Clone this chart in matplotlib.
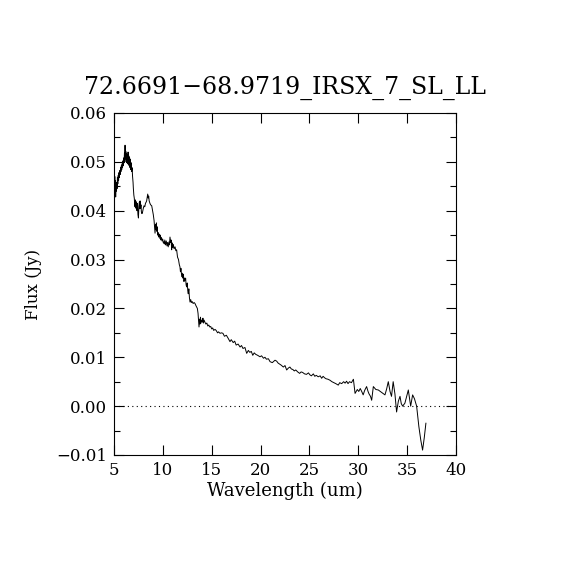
import numpy as np
import matplotlib
matplotlib.use("Agg")
import matplotlib.pyplot as plt
from matplotlib.ticker import MultipleLocator

# spectrum, in pieces

# 5 - 7 um
wave_a = [5.02, 5.05, 5.08, 5.11, 5.14, 5.17, 5.21, 5.24,
          5.27, 5.31, 5.35, 5.39, 5.43, 5.47, 5.51, 5.55,
          5.59, 5.63, 5.67, 5.71, 5.75, 5.79, 5.83, 5.87,
          5.91, 5.95, 5.99, 6.03, 6.07, 6.10, 6.13, 6.16,
          6.20, 6.24, 6.28, 6.32, 6.36, 6.40, 6.44, 6.48,
          6.52, 6.56, 6.60, 6.64, 6.68, 6.72, 6.76, 6.80,
          6.85, 6.90, 6.95, 6.98]
flux_a = [0.0500, 0.0440, 0.0470, 0.0432, 0.0462, 0.0428, 0.0455, 0.0440,
          0.0458, 0.0445, 0.0468, 0.0455, 0.0472, 0.0462, 0.0478, 0.0468,
          0.0482, 0.0474, 0.0488, 0.0480, 0.0492, 0.0484, 0.0496, 0.0488,
          0.0502, 0.0492, 0.0508, 0.0498, 0.0518, 0.0505, 0.0534, 0.0508,
          0.0522, 0.0500, 0.0518, 0.0498, 0.0515, 0.0496, 0.0520, 0.0494,
          0.0512, 0.0492, 0.0508, 0.0488, 0.0505, 0.0484, 0.0498, 0.0480,
          0.0488, 0.0470, 0.0458, 0.0446]

# 7 - 10 um
wave_b = [7.03, 7.08, 7.12, 7.15, 7.20, 7.25, 7.30, 7.35,
          7.40, 7.45, 7.50, 7.55, 7.60, 7.64, 7.67, 7.72,
          7.76, 7.80, 7.85, 7.90, 7.95, 8.00, 8.07, 8.15,
          8.22, 8.30, 8.34, 8.40, 8.45, 8.50, 8.55, 8.60,
          8.68, 8.75, 8.86, 8.95, 9.02, 9.10, 9.15, 9.20,
          9.25, 9.30, 9.34, 9.37, 9.42, 9.47, 9.53, 9.58,
          9.63, 9.70, 9.75, 9.80, 9.85, 9.92, 9.98, 10.05]
flux_b = [0.0432, 0.0425, 0.0412, 0.0408, 0.0422, 0.0405, 0.0418, 0.0400,
          0.0415, 0.0392, 0.0385, 0.0410, 0.0418, 0.0404, 0.0420, 0.0405,
          0.0412, 0.0398, 0.0394, 0.0395, 0.0400, 0.0405, 0.0410, 0.0408,
          0.0415, 0.0418, 0.0420, 0.0428, 0.0434, 0.0426, 0.0430, 0.0420,
          0.0415, 0.0412, 0.0410, 0.0400, 0.0392, 0.0380, 0.0368, 0.0354,
          0.0372, 0.0362, 0.0375, 0.0358, 0.0367, 0.0350, 0.0355, 0.0346,
          0.0352, 0.0343, 0.0350, 0.0340, 0.0345, 0.0338, 0.0342, 0.0334]

# 10 - 14.3 um
wave_c = [10.10, 10.15, 10.20, 10.27, 10.35, 10.42, 10.48, 10.55,
          10.62, 10.68, 10.73, 10.80, 10.85, 10.90, 10.96, 11.02,
          11.07, 11.15, 11.25, 11.33, 11.41, 11.50, 11.60, 11.68,
          11.75, 11.80, 11.85, 11.93, 12.00, 12.05, 12.10, 12.16,
          12.22, 12.27, 12.33, 12.38, 12.44, 12.50, 12.55, 12.60,
          12.66, 12.72, 12.78, 12.85, 12.92, 13.00, 13.10, 13.20,
          13.29, 13.40, 13.53, 13.60, 13.65, 13.70, 13.75, 13.80,
          13.85, 13.90, 13.98, 14.05, 14.10, 14.15, 14.22, 14.30]
flux_c = [0.0336, 0.0332, 0.0340, 0.0330, 0.0338, 0.0328, 0.0335, 0.0326,
          0.0336, 0.0330, 0.0346, 0.0335, 0.0340, 0.0320, 0.0334, 0.0325,
          0.0331, 0.0322, 0.0326, 0.0318, 0.0320, 0.0305, 0.0300, 0.0290,
          0.0285, 0.0275, 0.0282, 0.0265, 0.0272, 0.0262, 0.0270, 0.0255,
          0.0262, 0.0258, 0.0262, 0.0248, 0.0244, 0.0252, 0.0236, 0.0230,
          0.0240, 0.0222, 0.0213, 0.0218, 0.0212, 0.0214, 0.0210, 0.0212,
          0.0210, 0.0205, 0.0200, 0.0190, 0.0175, 0.0162, 0.0178, 0.0168,
          0.0182, 0.0170, 0.0176, 0.0172, 0.0180, 0.0170, 0.0176, 0.0172]

# 14.4 - 29.5 um
wave_d = [14.40, 14.50, 14.60, 14.70, 14.80, 14.90, 15.00, 15.10,
          15.20, 15.34, 15.45, 15.60, 15.70, 15.85, 16.00, 16.15,
          16.30, 16.50, 16.65, 16.87, 17.00, 17.20, 17.35, 17.50,
          17.70, 17.90, 18.05, 18.20, 18.40, 18.58, 18.75, 18.90,
          19.05, 19.20, 19.35, 19.50, 19.70, 19.94, 20.10, 20.30,
          20.45, 20.60, 20.80, 20.97, 21.20, 21.48, 21.65, 21.80,
          21.95, 22.10, 22.33, 22.50, 22.67, 22.85, 23.00, 23.15,
          23.30, 23.45, 23.60, 23.80, 24.00, 24.15, 24.30, 24.50,
          24.70, 24.90, 25.05, 25.20, 25.40, 25.55, 25.70, 25.90,
          26.10, 26.25, 26.40, 26.55, 26.70, 26.90, 27.10, 27.30,
          27.50, 27.70, 27.95, 28.10, 28.30, 28.50, 28.65, 28.80,
          28.95, 29.10, 29.30, 29.50]
flux_d = [0.0168, 0.0170, 0.0164, 0.0166, 0.0162, 0.0163, 0.0158, 0.0160,
          0.0155, 0.0157, 0.0155, 0.0150, 0.0152, 0.0149, 0.0150, 0.0149,
          0.0143, 0.0145, 0.0140, 0.0132, 0.0136, 0.0130, 0.0133, 0.0125,
          0.0127, 0.0121, 0.0124, 0.0118, 0.0120, 0.0108, 0.0114, 0.0110,
          0.0112, 0.0104, 0.0109, 0.0106, 0.0104, 0.0101, 0.0103, 0.0098,
          0.0100, 0.0096, 0.0097, 0.0091, 0.0089, 0.0094, 0.0092, 0.0088,
          0.0086, 0.0084, 0.0080, 0.0083, 0.0074, 0.0078, 0.0080, 0.0076,
          0.0075, 0.0072, 0.0074, 0.0070, 0.0067, 0.0070, 0.0069, 0.0066,
          0.0065, 0.0068, 0.0064, 0.0062, 0.0066, 0.0061, 0.0063, 0.0060,
          0.0062, 0.0057, 0.0061, 0.0058, 0.0056, 0.0055, 0.0053, 0.0050,
          0.0048, 0.0046, 0.0043, 0.0048, 0.0046, 0.0050, 0.0047, 0.0051,
          0.0046, 0.0050, 0.0048, 0.0055]

# 29.7 - 37 um
wave_e = [29.67, 29.90, 30.05, 30.20, 30.35, 30.50, 30.65, 30.85,
          31.00, 31.10, 31.25, 31.37, 31.54, 31.80, 32.05, 32.25,
          32.40, 32.60, 32.73, 32.90, 33.07, 33.25, 33.40, 33.57,
          33.75, 33.92, 34.10, 34.27, 34.40, 34.54, 34.77, 34.95,
          35.12, 35.36, 35.56, 35.75, 35.97, 36.20, 36.40, 36.58,
          36.75, 36.92]
flux_e = [0.0026, 0.0034, 0.0030, 0.0036, 0.0030, 0.0023, 0.0032, 0.0040,
          0.0030, 0.0025, 0.0020, 0.0012, 0.0040, 0.0034, 0.0033, 0.0030,
          0.0028, 0.0025, 0.0023, 0.0035, 0.0050, 0.0030, 0.0020, 0.0050,
          0.0025, -0.0012, 0.0010, 0.0020, 0.0005, 0.0000, 0.0006, 0.0020,
          0.0033, 0.0000, 0.0023, 0.0015, 0.0000, -0.0042, -0.0070, -0.0090,
          -0.0065, -0.0035]

wave = wave_a + wave_b + wave_c + wave_d + wave_e
flux = flux_a + flux_b + flux_c + flux_d + flux_e

title = "72.6691\u221268.9719_IRSX_7_SL_LL"

plt.rcParams['font.family'] = ['DejaVu Serif']

fig = plt.figure(figsize=(5.7, 5.7), dpi=100)
ax = fig.add_axes([0.2, 0.2018, 0.6, 0.6])

ax.plot(wave, flux, color='black', linewidth=0.7)
ax.axhline(0.0, color='black', linestyle=(0, (1, 3)), linewidth=0.8)

ax.set_xlim(5, 40)
ax.set_ylim(-0.01, 0.06)
ax.xaxis.set_major_locator(MultipleLocator(5))
ax.yaxis.set_major_locator(MultipleLocator(0.01))
ax.yaxis.set_minor_locator(MultipleLocator(0.005))
ax.yaxis.set_major_formatter(plt.FuncFormatter(
    lambda v, p: ("\u2212" if v < -1e-9 else "") + "%.2f" % abs(v)))
ax.tick_params(which='both', direction='in', top=True, right=True,
               labelsize=12, width=0.8)
ax.tick_params(which='major', length=7, pad=5)
ax.tick_params(which='minor', length=4)
for s in ax.spines.values():
    s.set_linewidth(0.8)

ax.set_xlabel("Wavelength (um)", fontsize=13, labelpad=2)
ax.set_ylabel("Flux (Jy)", fontsize=12, labelpad=10)
ax.set_title(title, fontsize=17, pad=14)

fig.savefig("out.png", dpi=100)
